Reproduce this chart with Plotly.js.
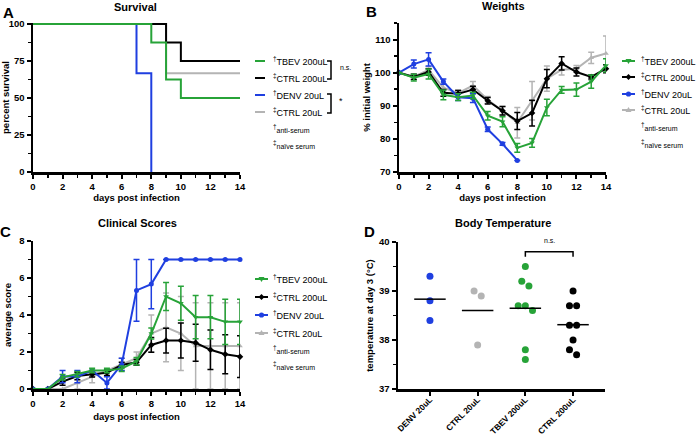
<!DOCTYPE html>
<html><head><meta charset="utf-8">
<script src="https://cdn.plot.ly/plotly-3.0.1.min.js"></script>
<style>html,body{margin:0;padding:0;background:#fff}#chart{width:696px;height:436px}</style>
</head><body><div id="chart"></div>
<script>
const W = 696, H = 436;
const px = x => x / W, py = y => 1 - y / H;
const FONT = 'Liberation Sans, Arial, sans-serif';

const GREEN = '#27a338', BLACK = '#000000', BLUE = '#1f3fe0', GRAY = '#b4b4b4';

// Series
const seriesNames = ['TBEV 200uL', 'CTRL 200uL', 'DENV 20uL', 'CTRL 20uL'];
const seriesMarks = ['†', '‡', '†', '‡'];
const seriesColors = [GREEN, BLACK, BLUE, GRAY];
const seriesSymbols = ['triangle-down', 'diamond', 'circle', 'triangle-up'];

// Panel A: survival (percent)
const survTBEV_x = [0, 8, 9, 10, 14];
const survTBEV_y = [100, 87.5, 62.5, 50, 50];
const survCTRL200_x = [0, 9, 10, 14];
const survCTRL200_y = [100, 87.5, 75, 75];
const survDENV_x = [0, 7, 8];
const survDENV_y = [100, 66.7, 0];
const survCTRL20_x = [0, 9, 14];
const survCTRL20_y = [100, 66.7, 66.7];

// Panel B: weights (% initial)
const days = [0, 1, 2, 3, 4, 5, 6, 7, 8, 9, 10, 11, 12, 13, 14];
const daysDENV = [0, 1, 2, 3, 4, 5, 6, 7, 8];
const wTBEV = [100, 98.5, 99.6, 93.3, 92.6, 93.1, 87.0, 85.2, 77.3, 78.8, 89.5, 94.8, 94.9, 97.3, 102.2];
const wTBEV_err = [0, 1.0, 1.5, 1.5, 1.0, 1.0, 1.3, 1.5, 1.3, 1.3, 2.5, 1.0, 2.0, 2.0, 2.0];
const wCTRL200 = [100, 98.7, 100.2, 93.9, 93.6, 94.9, 91.5, 88.5, 85.4, 87.8, 98.2, 102.8, 100.2, 98.7, 101.2];
const wCTRL200_err = [0, 0.8, 1.0, 1.0, 1.0, 1.0, 1.0, 1.3, 2.6, 3.9, 2.75, 2.0, 1.2, 0.6, 1.2];
const wDENV = [100, 102.6, 104.0, 97.3, 92.6, 92.3, 82.9, 78.5, 73.5];
const wDENV_err = [0, 1.2, 2.0, 0.8, 1.0, 1.3, 0.7, 0.4, 0];
const wCTRL20 = [100, 98.8, 100.8, 95.5, 93.8, 96.1, 91.8, 88.5, 84.9, 91.5, 98.2, 100.9, 101.2, 104.5, 105.8];
const wCTRL20_err = [0, 0.8, 1.0, 1.0, 1.0, 1.2, 1.0, 1.3, 4.6, 5.8, 3.8, 1.6, 1.0, 1.7, 5.3];

// Panel C: clinical scores
const cTBEV = [0, 0, 0.63, 0.8, 1.0, 1.0, 1.1, 1.5, 3.0, 5.0, 4.63, 3.88, 3.88, 3.63, 3.63];
const cTBEV_err = [0, 0, 0.15, 0.15, 0.12, 0.12, 0.15, 0.2, 0.3, 0.76, 0.92, 1.17, 1.17, 1.22, 1.22];
const cCTRL200 = [0, 0, 0.4, 0.7, 0.8, 0.88, 1.3, 1.44, 2.38, 2.62, 2.62, 2.5, 2.12, 1.88, 1.75];
const cCTRL200_err = [0, 0, 0.2, 0.2, 0.15, 0.15, 0.15, 0.15, 0.4, 0.67, 0.95, 1.0, 1.07, 1.05, 1.13];
const cDENV = [0, 0, 0.67, 0.67, 1.0, 0.33, 1.33, 5.33, 5.67, 7, 7, 7, 7, 7, 7];
const cDENV_err = [0, 0, 0.33, 0.33, 0, 0.33, 0.33, 1.67, 1.33, 0, 0, 0, 0, 0, 0];
const cCTRL20 = [0, 0, 0, 0.33, 0.67, 1.0, 1.33, 1.67, 3.0, 3.33, 3.0, 2.33, 2.33, 2.33, 2.33];
const cCTRL20_err = [0, 0, 0, 0.33, 0.33, 0, 0.33, 0.33, 1.0, 1.86, 2.0, 2.33, 2.33, 2.33, 2.33];

// Panel D: body temperature at day 3
const tempGroups = ['DENV 20uL', 'CTRL 20uL', 'TBEV 200uL', 'CTRL 200uL'];
const tempDENV = [39.3, 38.8, 38.4];
const tempCTRL20 = [39.0, 38.9, 37.9];
const tempTBEV = [39.5, 39.2, 39.1, 38.7, 38.7, 38.6, 37.8, 37.6];
const tempCTRL200 = [39.0, 38.7, 38.7, 38.3, 38.3, 38.0, 37.8, 37.7];
const tempColors = [BLUE, GRAY, GREEN, BLACK];

const traces = [];

// ---- Panel A (drawn bottom to top: CTRL20, DENV, CTRL200, TBEV)
[[survCTRL20_x, survCTRL20_y, 3], [survDENV_x, survDENV_y, 2], [survCTRL200_x, survCTRL200_y, 1], [survTBEV_x, survTBEV_y, 0]]
  .forEach(([x, y, i]) => traces.push({
    type: 'scatter', mode: 'lines', x: x, y: y, xaxis: 'x', yaxis: 'y',
    line: {shape: 'hv', color: seriesColors[i], width: 2}, name: seriesNames[i], showlegend: false, cliponaxis: false
  }));

function lineTrace(x, y, err, i, xa, ya) {
  return {
    type: 'scatter', mode: 'lines+markers', x: x, y: y, xaxis: xa, yaxis: ya, name: seriesNames[i], showlegend: false,
    cliponaxis: false,
    line: {color: seriesColors[i], width: 2},
    marker: {color: seriesColors[i], size: 5, symbol: seriesSymbols[i]},
    error_y: {type: 'data', array: err, visible: true, color: seriesColors[i], thickness: 1.5, width: 3}
  };
}
// ---- Panel B
traces.push(lineTrace(days, wCTRL20, wCTRL20_err, 3, 'x2', 'y2'));
traces.push(lineTrace(days, wCTRL200, wCTRL200_err, 1, 'x2', 'y2'));
traces.push(lineTrace(daysDENV, wDENV, wDENV_err, 2, 'x2', 'y2'));
traces.push(lineTrace(days, wTBEV, wTBEV_err, 0, 'x2', 'y2'));
// ---- Panel C
traces.push(lineTrace(days, cCTRL20, cCTRL20_err, 3, 'x3', 'y3'));
traces.push(lineTrace(days, cCTRL200, cCTRL200_err, 1, 'x3', 'y3'));
traces.push(lineTrace(days, cDENV, cDENV_err, 2, 'x3', 'y3'));
traces.push(lineTrace(days, cTBEV, cTBEV_err, 0, 'x3', 'y3'));

// ---- Panel D: scatter with simple beeswarm spreading of near-equal values
function swarm(vals, center) {
  const sorted = vals.slice().sort((a, b) => b - a);
  const groups = [];
  sorted.forEach(v => {
    const g = groups[groups.length - 1];
    if (g && g[0] - v <= 0.15 + 1e-9) g.push(v); else groups.push([v]);
  });
  const xs = [], ys = [];
  groups.forEach(g => g.forEach((v, k) => { xs.push(center + (k - (g.length - 1) / 2) * 0.15); ys.push(v); }));
  return {xs, ys};
}
[tempDENV, tempCTRL20, tempTBEV, tempCTRL200].forEach((vals, i) => {
  const s = swarm(vals, i);
  traces.push({type: 'scatter', mode: 'markers', x: s.xs, y: s.ys, xaxis: 'x4', yaxis: 'y4', showlegend: false,
    name: tempGroups[i], marker: {color: tempColors[i], size: 7}, cliponaxis: false});
  const mean = vals.reduce((a, b) => a + b, 0) / vals.length;
  traces.push({type: 'scatter', mode: 'lines', x: [i - 0.33, i + 0.33], y: [mean, mean], xaxis: 'x4', yaxis: 'y4',
    showlegend: false, line: {color: BLACK, width: 1.5}, hoverinfo: 'skip'});
});

// ---- Axes
const tickfont = {family: FONT, size: 9.5, color: BLACK, weight: 'bold'};
const titlefont = {family: FONT, size: 9.5, color: BLACK, weight: 'bold'};
function axis(extra) {
  return Object.assign({
    showline: true, linecolor: BLACK, linewidth: 2.5, ticks: 'outside', ticklen: 4, tickwidth: 2, tickcolor: BLACK,
    showgrid: false, zeroline: false, tickfont: tickfont, fixedrange: true
  }, extra);
}
function minor(d) { return {dtick: d, ticks: 'outside', ticklen: 3, tickwidth: 1.5, tickcolor: BLACK, showgrid: false}; }

const layout = {
  width: W, height: H, margin: {l: 0, r: 0, t: 0, b: 0}, paper_bgcolor: '#fff', plot_bgcolor: '#fff',
  showlegend: false, font: {family: FONT, color: BLACK},
  xaxis: axis({domain: [px(33), px(240)], anchor: 'y', range: [0, 14], tick0: 0, dtick: 2, minor: minor(1),
    title: {text: 'days post infection', font: titlefont, standoff: 4}}),
  yaxis: axis({domain: [py(172), py(23)], anchor: 'x', range: [0, 100.7], tick0: 0, dtick: 25, minor: minor(12.5),
    title: {text: 'percent survival', font: titlefont, standoff: 3}}),
  xaxis2: axis({domain: [px(399), px(606)], anchor: 'y2', range: [0, 14], tick0: 0, dtick: 2, minor: minor(1),
    title: {text: 'days post infection', font: titlefont, standoff: 4}}),
  yaxis2: axis({domain: [py(172), py(23)], anchor: 'x2', range: [70, 115], tick0: 70, dtick: 10, minor: minor(5),
    title: {text: '% initial weight', font: titlefont, standoff: 3}}),
  xaxis3: axis({domain: [px(33), px(240)], anchor: 'y3', range: [0, 14], tick0: 0, dtick: 2, minor: minor(1),
    title: {text: 'days post infection', font: titlefont, standoff: 6}}),
  yaxis3: axis({domain: [py(389), py(241)], anchor: 'x3', range: [0, 8], tick0: 0, dtick: 2, minor: minor(1),
    title: {text: 'average score', font: titlefont, standoff: 6}}),
  xaxis4: axis({domain: [px(398), px(605)], anchor: 'y4', range: [-0.67, 3.67], tickmode: 'array',
    tickvals: [0, 1, 2, 3], ticktext: tempGroups, tickangle: -45, ticklabelstandoff: -4,
    tickfont: {family: FONT, size: 8.4, color: BLACK, weight: 'bold'}}),
  yaxis4: axis({domain: [py(389), py(242)], anchor: 'x4', range: [37, 40], tick0: 37, dtick: 1, minor: minor(0.5),
    title: {text: 'temperature at day 3 (°C)', font: titlefont, standoff: 4}}),
  annotations: [], shapes: []
};

const ann = layout.annotations, shp = layout.shapes;
function txt(x, y, text, size, opts) {
  ann.push(Object.assign({xref: 'paper', yref: 'paper', x: px(x), y: py(y), text: text, showarrow: false,
    xanchor: 'center', yanchor: 'middle', font: {family: FONT, size: size, color: BLACK}}, opts || {}));
}
// Panel titles and letters
const bold11 = {family: FONT, size: 11, color: BLACK, weight: 'bold'};
txt(135, 7, 'Survival', 11, {font: bold11});
txt(503, 6, 'Weights', 11, {font: bold11});
txt(137, 223, 'Clinical Scores', 11, {font: bold11});
txt(503, 223, 'Body Temperature', 11, {font: bold11});
const bold15 = {family: FONT, size: 15, color: BLACK, weight: 'bold'};
txt(8, 13, 'A', 15, {font: bold15});
txt(371, 11, 'B', 15, {font: bold15});
txt(5, 231, 'C', 15, {font: bold15});
txt(369, 231, 'D', 15, {font: bold15});

// Legends (manual, as in reference)
function markerShape(cx, cy, sym, color) {
  const base = {xref: 'paper', yref: 'paper', xsizemode: 'pixel', ysizemode: 'pixel', xanchor: px(cx), yanchor: py(cy),
    fillcolor: color, line: {width: 0}};
  if (sym === 'circle') shp.push(Object.assign(base, {type: 'circle', x0: -2.6, x1: 2.6, y0: -2.6, y1: 2.6}));
  else if (sym === 'triangle-down') shp.push(Object.assign(base, {type: 'path', path: 'M-3,2 L3,2 L0,-3 Z'}));
  else if (sym === 'triangle-up') shp.push(Object.assign(base, {type: 'path', path: 'M-3,-2 L3,-2 L0,3 Z'}));
  else shp.push(Object.assign(base, {type: 'path', path: 'M0,3 L3,0 L0,-3 L-3,0 Z'}));
}
function legend(lx0, lx1, tx, ys, noteYs, withMarkers) {
  seriesNames.forEach((n, i) => {
    shp.push({type: 'line', xref: 'paper', yref: 'paper', x0: px(lx0), x1: px(lx1), y0: py(ys[i]), y1: py(ys[i]),
      line: {color: seriesColors[i], width: 2}});
    if (withMarkers) markerShape((lx0 + lx1) / 2, ys[i], seriesSymbols[i], seriesColors[i]);
    txt(tx, ys[i], '<sup>' + seriesMarks[i] + '</sup>' + n, 9, {xanchor: 'left'});
  });
  txt(tx, noteYs[0], '<sup>†</sup><span style="font-size:7px;color:#000">anti-serum</span>', 9, {xanchor: 'left'});
  txt(tx, noteYs[1], '<sup>‡</sup><span style="font-size:7px;color:#000">naïve serum</span>', 9, {xanchor: 'left'});
}
legend(255, 265, 271, [61, 78, 95, 112], [128, 144], false);
legend(622, 635, 639, [61, 77, 94, 110], [127, 143], true);
legend(255, 268, 271, [279, 297, 315, 333], [349, 365], true);

// brackets in legend A
function bracket(x, y0, y1) {
  shp.push({type: 'path', xref: 'paper', yref: 'paper',
    path: `M${px(x - 4)},${py(y0)} L${px(x)},${py(y0)} L${px(x)},${py(y1)} L${px(x - 4)},${py(y1)}`,
    line: {color: BLACK, width: 1.5}});
}
bracket(331, 61, 79);
txt(338, 67, 'n.s.', 7, {xanchor: 'left'});
bracket(331, 94, 113);
txt(337, 101, '*', 9, {xanchor: 'left'});

// significance bracket panel D
shp.push({type: 'path', xref: 'x4', yref: 'y4', path: 'M2,39.7 L2,39.8 L3,39.8 L3,39.7', line: {color: BLACK, width: 1.5}});
ann.push({xref: 'x4', yref: 'y4', x: 2.5, y: 39.8, yshift: 6, text: 'n.s.', showarrow: false, yanchor: 'bottom',
  font: {family: FONT, size: 7, color: BLACK}});

Plotly.newPlot('chart', traces, layout, {displayModeBar: false, staticPlot: true});
</script></body></html>
